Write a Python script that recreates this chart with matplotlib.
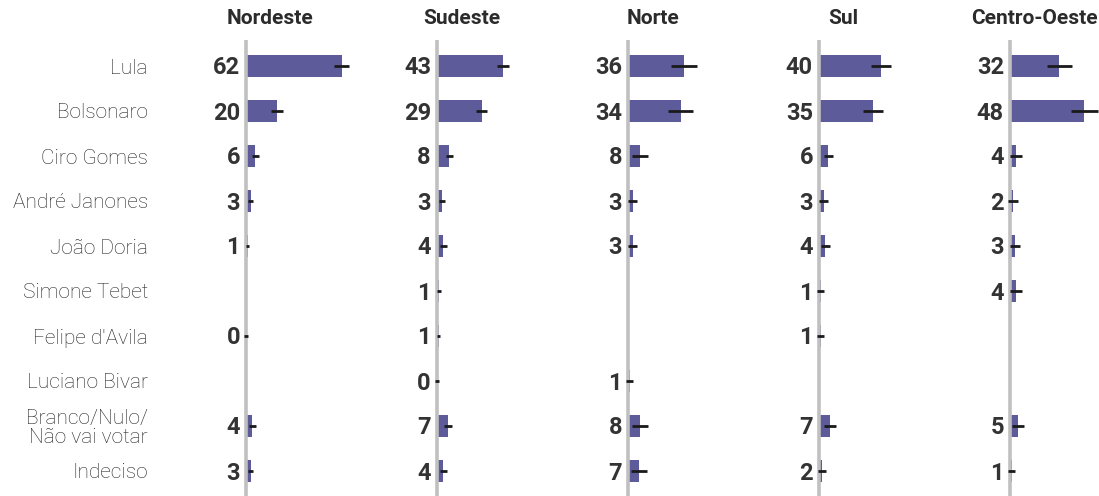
import matplotlib.pyplot as plt
import matplotlib.transforms as mtransforms
import numpy as np

plt.rcParams['font.family'] = ['Roboto', 'DejaVu Sans']

# dados (None = sem valor)
categorias = ["Lula", "Bolsonaro", "Ciro Gomes", "André Janones", "João Doria",
              "Simone Tebet", "Felipe d'Avila", "Luciano Bivar",
              "Branco/Nulo/\nNão vai votar", "Indeciso"]
regioes = ["Nordeste", "Sudeste", "Norte", "Sul", "Centro-Oeste"]

nordeste = [62, 20, 6, 3, 1, None, 0, None, 4, 3]
sudeste = [43, 29, 8, 3, 4, 1, 1, 0, 7, 4]
norte = [36, 34, 8, 3, 3, None, None, 1, 8, 7]
sul = [40, 35, 6, 3, 4, 1, 1, None, 7, 2]
centro_oeste = [32, 48, 4, 2, 3, 4, None, None, 5, 1]

# margem de erro
erro_nordeste = [4.9, 3.9, 2.3, 1.6, 1, None, 1, None, 2.2, 1.7]
erro_sudeste = [3.9, 3.5, 2.3, 2, 2.3, 1.3, 1, 1, 2.5, 2.2]
erro_norte = [8.4, 8.2, 5.2, 3, 3, None, None, 2, 5.2, 5]
erro_sul = [6.5, 6.4, 3, 2.9, 3, 2, 2, None, 4, 2.5]
erro_centro_oeste = [8, 8.8, 4, 3, 3.3, 4, None, None, 4, 2.5]

valores = [nordeste, sudeste, norte, sul, centro_oeste]
erros = [erro_nordeste, erro_sudeste, erro_norte, erro_sul, erro_centro_oeste]

W, H = 1099, 496
fig = plt.figure(figsize=(W / 100, H / 100), dpi=100)

cor_barra = '#5e5b9a'
cor_texto = '#333333'
px_por_unidade = 1.545
eixo_px = [246, 437, 628, 819, 1010]
esq_px = 40
dir_px = 120
topo_px = 40
linha0_px = 66
passo_px = 45

n = len(categorias)
y_top = -(linha0_px - topo_px) / passo_px
y_bot = (H - linha0_px) / passo_px

# deslocamento de texto para baixo (pixels)
desce = mtransforms.ScaledTranslation(0, -2 / 100, fig.dpi_scale_trans)

axes = []
for k in range(len(regioes)):
    left = (eixo_px[k] - esq_px) / W
    width = (esq_px + dir_px) / W
    ax = fig.add_axes([left, 0, width, (H - topo_px) / H])
    ax.set_xlim(-esq_px / px_por_unidade, dir_px / px_por_unidade)
    ax.set_ylim(y_bot, y_top)
    ax.axis('off')
    axes.append(ax)

    vals = valores[k]
    errs = erros[k]
    for i in range(n):
        v = vals[i]
        if v is None:
            continue
        ax.barh(i, v, height=0.51, color=cor_barra, zorder=2)
        ax.errorbar(v, i, xerr=errs[i], fmt='none', ecolor='#1a1a1a',
                    elinewidth=2, capsize=0, zorder=4, clip_on=False)
        ax.text(-6 / px_por_unidade, i, str(v), ha='right', va='center',
                fontsize=17, fontweight='bold', color=cor_texto,
                transform=ax.transData + desce)
    ax.axvline(0, color='#c0c0c0', lw=2.6, zorder=3)

    tr = mtransforms.blended_transform_factory(ax.transData, fig.transFigure)
    ax.text(24.5 / px_por_unidade, 1 - 18 / H, regioes[k], transform=tr,
            ha='center', va='center', fontsize=15, fontweight='bold',
            color='#2b2b2b')

tr = mtransforms.blended_transform_factory(fig.transFigure, axes[0].transData)
for i in range(n):
    axes[0].text(148 / W, i, categorias[i], transform=tr + desce, ha='right',
                 va='center', fontsize=15, fontweight='light', color='#222222',
                 linespacing=1.05, multialignment='right')

fig.savefig('out.png', dpi=100)
